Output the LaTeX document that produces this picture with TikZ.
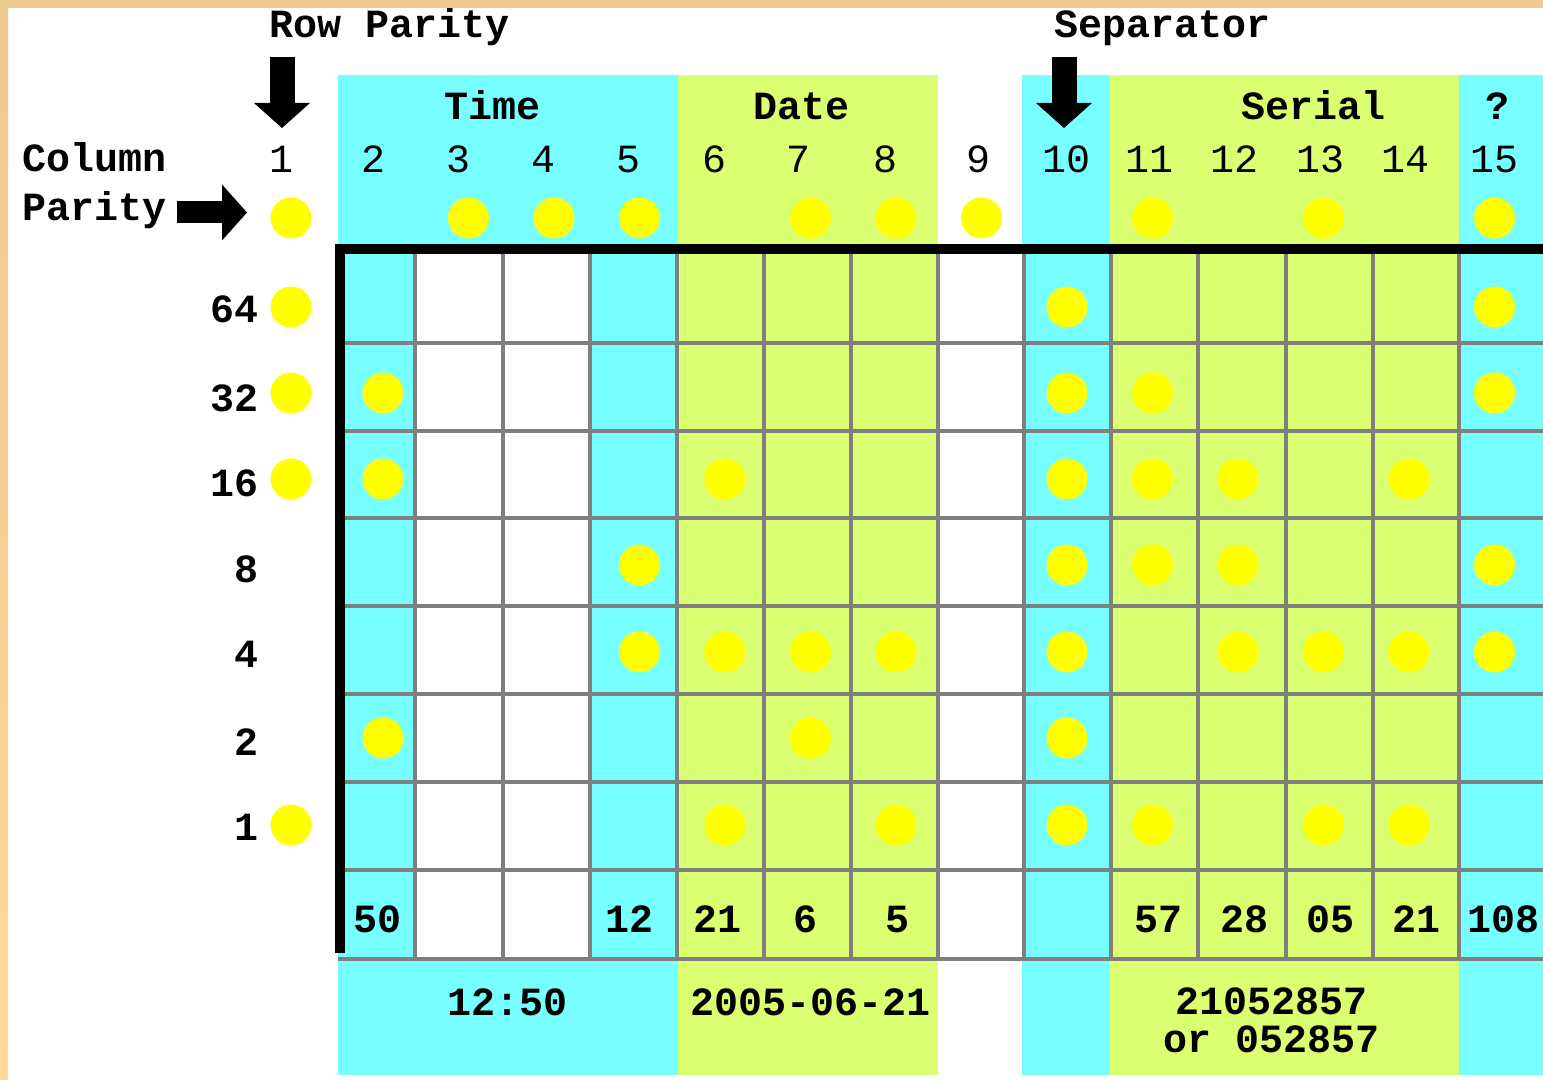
\documentclass[tikz,border=0pt]{standalone}
\usepackage{fontspec}
\setmainfont{Liberation Mono}
\usetikzlibrary{arrows.meta}

\definecolor{bandcyan}{HTML}{77FFFF}
\definecolor{bandgreen}{HTML}{DAFF71}
\definecolor{cardtan}{HTML}{EDCA8E}
\definecolor{cardsand}{HTML}{FDD99B}
\definecolor{gridgray}{HTML}{7F7F7F}
\definecolor{holeyellow}{HTML}{FFFF00}

\begin{document}
\begin{tikzpicture}[x=0.5pt, y=-0.5pt,
  lbl/.style={inner sep=0pt, anchor=base, font=\fontsize{20}{24}\selectfont\bfseries},
  num/.style={lbl, font=\fontsize{20}{24}\selectfont},
  hole/.style={circle, fill=holeyellow, inner sep=0pt, minimum size=20.5pt},
  gridline/.style={gridgray, line width=2pt},
  blockarrow/.style={line width=#1, -{Triangle[length=12.5pt, width=28pt, line width=0pt]}}]

  \useasboundingbox (0,0) rectangle (1543,1080);
  \fill[white] (0,0) rectangle (1543,1080);
  \shade[top color=cardtan, bottom color=cardsand] (0,0) rectangle (8,1080);
  \fill[cardtan] (0,0) rectangle (1543,8);

  \fill[bandcyan] (338,75) rectangle (678,1075);
  \fill[bandgreen] (678,75) rectangle (938,1075);
  \fill[bandcyan] (1022,75) rectangle (1109,1075);
  \fill[bandgreen] (1109,75) rectangle (1459,1075);
  \fill[bandcyan] (1459,75) rectangle (1543,1075);
  \fill[white] (415,254) rectangle (590,959);

  \foreach \x in {415,503,590,677,764,851,938,1024,1111,1198,1286,1373,1459}
    \draw[gridline] (\x,254) -- (\x,959);
  \foreach \y in {343,431,518,606,694,782,870,959}
    \draw[gridline] (338,\y) -- (1543,\y);
  \draw[line width=5pt] (340,953) |- (1543,249.5);

  \node[lbl] (rowpar) at (390,38) {Row Parity};
  \node[lbl] (sep) at (1163,38) {Separator};
  \node[lbl] (time) at (493,120) {Time};
  \node[lbl] (date) at (802,120) {Date};
  \node[lbl] (serial) at (1313,120) {Serial};
  \node[lbl] (unknown) at (1497,120) {?};
  \node[lbl, anchor=base west] (colword) at (22,172) {Column};
  \node[lbl, anchor=base west] (parword) at (22,221) {Parity};

  \coordinate (rowtail) at (282,57);
  \coordinate (rowtip) at (282,128);
  \coordinate (septail) at (1064,57);
  \coordinate (septip) at (1064,128);
  \coordinate (partail) at (177,212.5);
  \coordinate (partip) at (247,212.5);
  \draw[blockarrow=12.5pt] (rowtail) -- (rowtip);
  \draw[blockarrow=12.5pt] (septail) -- (septip);
  \draw[blockarrow=11pt] (partail) -- (partip);

  \foreach \n/\x in {1/281,2/373,3/458,4/543,5/628,6/714,7/798,8/885,9/978,10/1066,11/1149,12/1234,13/1320,14/1405,15/1494}
    \node[num] (col\n) at (\x,173) {\n};
  \foreach \r/\y in {64/323,32/412,16/497,8/582,4/668,2/755,1/840}
    \node[lbl, anchor=base east] (row\r) at (259,\y) {\r};

  \foreach \r/\y/\cols in {top/218/{1,3,4,5,7,8,9,11,13,15}, 64/307/{1,10,15},
      32/393/{1,2,10,11,15}, 16/479/{1,2,6,10,11,12,14}, 8/565/{5,10,11,12,15},
      4/652/{5,6,7,8,10,12,13,14,15}, 2/738/{2,7,10}, 1/825/{1,6,8,10,11,13,14}}
    \foreach \c in \cols {
      \pgfmathsetmacro\hx{\c==1 ? 291 : 383+(\c-2)*85.5}
      \node[hole] (h\r-\c) at (\hx,\y) {};
    }

  \foreach \i/\v/\x in {2/50/378,5/12/629,6/21/717,7/6/805,8/5/897,11/57/1158,12/28/1244,13/05/1330,14/21/1416,15/108/1503}
    \node[lbl] (val\i) at (\x,932) {\v};

  \node[lbl] (timeval) at (508,1015) {12:50};
  \node[lbl] (dateval) at (811,1015) {2005-06-21};
  \node[lbl] (serialval) at (1272,1014) {21052857};
  \node[lbl] (serialalt) at (1272,1052) {or 052857};
\end{tikzpicture}
\end{document}
